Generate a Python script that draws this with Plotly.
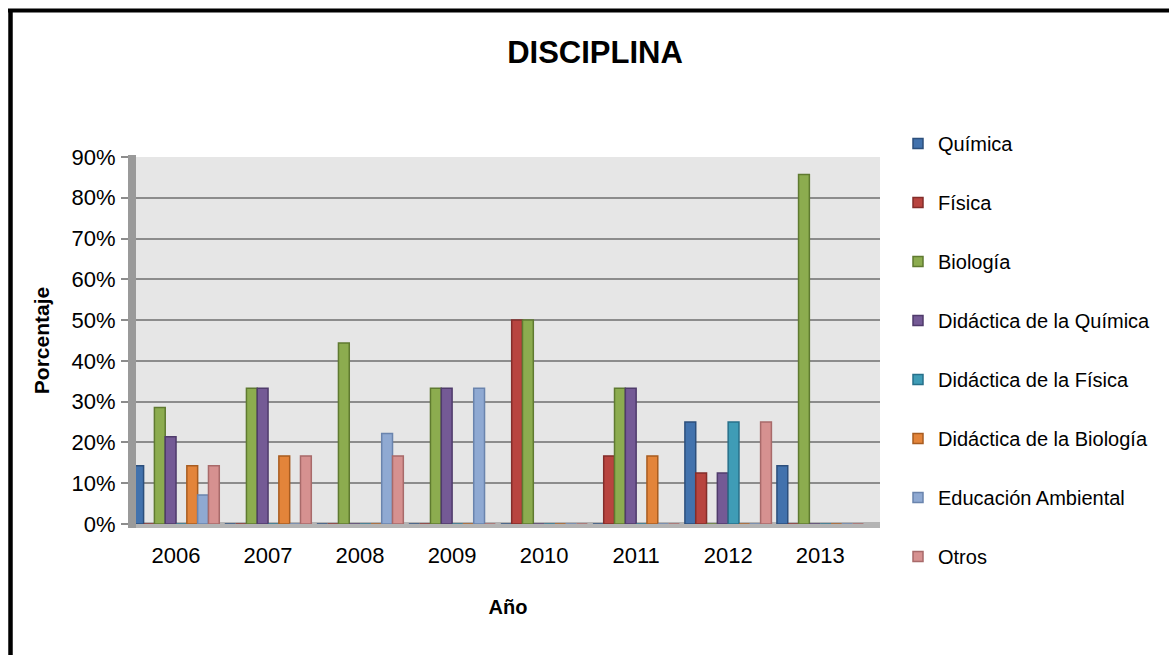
import plotly.graph_objects as go

years = ["2006", "2007", "2008", "2009", "2010", "2011", "2012", "2013"]
series_names = ["Química", "Física", "Biología", "Didáctica de la Química",
                "Didáctica de la Física", "Didáctica de la Biología",
                "Educación Ambiental", "Otros"]
quimica = [0.143, 0, 0, 0, 0, 0, 0.25, 0.143]
fisica = [0, 0, 0, 0, 0.50, 0.167, 0.125, 0]
biologia = [0.286, 0.333, 0.444, 0.333, 0.50, 0.333, 0, 0.857]
did_quimica = [0.214, 0.333, 0, 0.333, 0, 0.333, 0.125, 0]
did_fisica = [0, 0, 0, 0, 0, 0, 0.25, 0]
did_biologia = [0.143, 0.167, 0, 0, 0, 0.167, 0, 0]
educ_ambiental = [0.071, 0, 0.222, 0.333, 0, 0, 0, 0]
otros = [0.143, 0.167, 0.167, 0, 0, 0, 0.25, 0]
series_values = [quimica, fisica, biologia, did_quimica, did_fisica,
                 did_biologia, educ_ambiental, otros]
y_ticks = [0, 0.1, 0.2, 0.3, 0.4, 0.5, 0.6, 0.7, 0.8, 0.9]
y_ticktext = ["0%", "10%", "20%", "30%", "40%", "50%", "60%", "70%", "80%", "90%"]

fills = ["#4272ad", "#b8443f", "#8cac4f", "#745a95", "#3f9cb6", "#e3843a", "#8fa9d2", "#d69190"]
edges = ["#2c4f7c", "#832d2a", "#5f7a30", "#4f3b6b", "#27708a", "#a85c20", "#6a84ad", "#a86a6a"]

FONT = "Liberation Sans, Arial, sans-serif"

fig = go.Figure()
for i, (name, vals) in enumerate(zip(series_names, series_values)):
    fig.add_trace(go.Bar(
        x=years, y=vals, name=name, legendgroup=name, showlegend=False,
        marker=dict(color=fills[i], line=dict(color=edges[i], width=1.5)),
    ))
# legend entries with small square keys
for i, name in enumerate(series_names):
    fig.add_trace(go.Scatter(
        x=[None], y=[None], mode="markers", name=name, legendgroup=name,
        marker=dict(symbol="square", size=10, color=fills[i],
                    line=dict(color=edges[i], width=1.5)),
    ))

L, R, T, B = 136, 289, 157, 131
W = 1169 - L - R
H = 655 - T - B

def px_x(p):
    return (p - L) / W

def px_y(p):
    return (655 - B - p) / H

fig.update_layout(
    width=1169, height=655,
    margin=dict(l=L, r=R, t=T, b=B, pad=0),
    paper_bgcolor="white",
    plot_bgcolor="#e6e6e6",
    barmode="group", bargap=0.06, bargroupgap=0.0,
    font=dict(family=FONT, size=21, color="black"),
    title=dict(text="<b>DISCIPLINA</b>", x=595 / 1169, xref="container", xanchor="center",
               y=1 - 52 / 655, yref="container", yanchor="middle",
               font=dict(size=31, family=FONT)),
    legend=dict(x=px_x(898), xanchor="left", y=px_y(124), yanchor="top",
                font=dict(size=20), tracegroupgap=30, maxheight=1,
                itemwidth=30, bgcolor="rgba(0,0,0,0)"),
    showlegend=True,
)
fig.update_xaxes(
    type="category", range=[-0.435, 7.65],
    showgrid=False, zeroline=False, showline=False,
    ticks="", ticklabelstandoff=16,
    title=dict(text="<b>Año</b>", standoff=32, font=dict(size=20)),
    tickfont=dict(size=22),
)
fig.update_yaxes(
    range=[0, 0.9], tickvals=y_ticks, ticktext=y_ticktext,
    showgrid=True, gridcolor="#8c8c8c", gridwidth=2,
    zeroline=False, showline=False,
    ticks="outside", ticklen=14, tickcolor="#8c8c8c", tickwidth=1.5,
    ticklabelstandoff=1,
    title=dict(text="<b>Porcentaje</b>", standoff=16, font=dict(size=21)),
    tickfont=dict(size=22),
)

# side wall and floor strips (3D look), chart border
fig.add_shape(type="rect", xref="paper", yref="paper",
              x0=px_x(128), x1=px_x(136), y0=px_y(528), y1=px_y(155),
              fillcolor="#9a9a9a", line=dict(width=0), layer="above")
fig.add_shape(type="rect", xref="paper", yref="paper",
              x0=px_x(128), x1=px_x(880), y0=px_y(528), y1=px_y(522),
              fillcolor="#b4b4b4", line=dict(width=0), layer="below")
fig.add_shape(type="line", xref="paper", yref="paper",
              x0=px_x(10.5), x1=px_x(10.5), y0=px_y(700), y1=px_y(10),
              line=dict(color="black", width=4.5))
fig.add_shape(type="line", xref="paper", yref="paper",
              x0=px_x(8), x1=px_x(1200), y0=px_y(10.5), y1=px_y(10.5),
              line=dict(color="black", width=4))

fig.write_html("out.html")
